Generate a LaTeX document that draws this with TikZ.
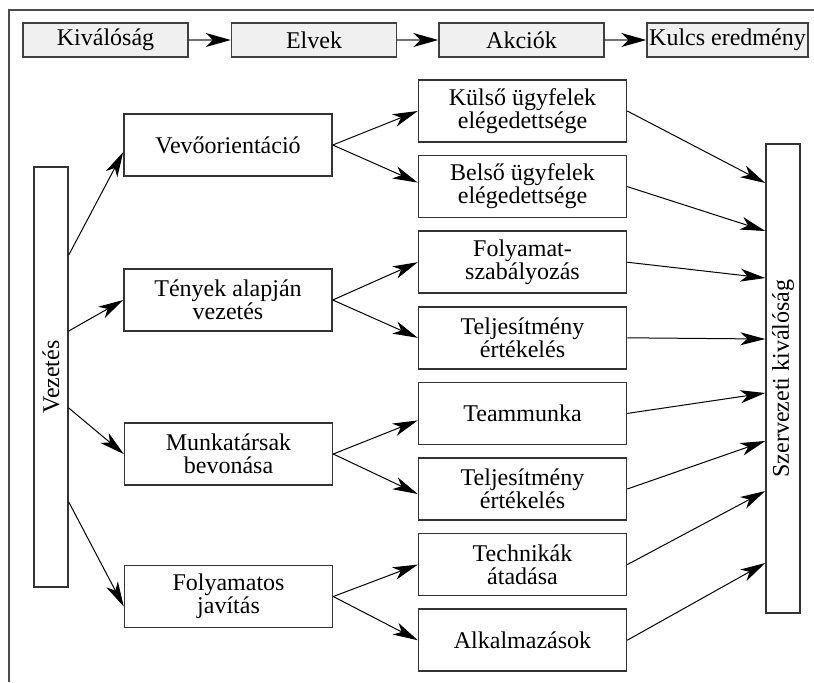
\documentclass[tikz,border=0pt]{standalone}
\usepackage{fontspec}
\setmainfont{Liberation Serif}
\usetikzlibrary{arrows.meta}

\begin{document}
\begin{tikzpicture}[x=0.5pt,y=-0.5pt,
  every node/.style={font=\fontsize{12}{11.5}\selectfont,inner sep=0pt,align=center},
  fejlec/.style={draw=black!75,fill=black!6,line width=0.7pt,minimum width=82.5pt,minimum height=17pt},
  doboz/.style={draw=black!80,line width=0.75pt,minimum width=104pt,minimum height=31pt},
  oszlop/.style={draw=black!80,line width=0.75pt,rotate=90,minimum height=17pt},
  nyil/.style={-{Stealth[length=12.5pt,width=6.5pt,inset=3.5pt]},line width=0.5pt},
  fejnyil/.style={-{Stealth[length=12.5pt,width=7pt,inset=3.5pt,color=black]},draw=black!55,line width=0.8pt}]
\useasboundingbox (0,0) rectangle (814,682);
% keret
\draw [black!70,line width=1pt] (9,682) -- (9,10) -- (814,10);

% felso sor
\path (105.5,40) node (kival) [fejlec] {Kiválóság};
\path (314,40) node (elvek) [fejlec] {Elvek};
\path (521.5,40) node (akcio) [fejlec] {Akciók};
\path (727.5,40) node (kulcs) [fejlec,minimum width=80.5pt] {Kulcs eredmény};

\draw [fejnyil] (kival) to (elvek);
\draw [fejnyil] (elvek) to (akcio);
\draw [fejnyil] (akcio) to (kulcs);

% oszlopok
\path (51,377) node (vez) [oszlop,minimum width=210pt] {Vezetés};
\path (783,378.5) node (szerv) [oszlop,minimum width=234.5pt] {Szervezeti kiválóság};

% elvek
\path (228,145) node (vevo) [doboz] {Vevőorientáció};
\path (228,300) node (tenyek) [doboz] {Tények alapján\\vezetés};
\path (228.5,454) node (munka) [doboz] {Munkatársak\\bevonása};
\path (228.5,596.5) node (foly) [doboz] {Folyamatos\\javítás};

% akciok
\path (522.5,111) node (kulso) [doboz] {Külső ügyfelek\\elégedettsége};
\path (522.5,186.6) node (belso) [doboz] {Belső ügyfelek\\elégedettsége};
\path (522.5,262.2) node (szab) [doboz] {Folyamat-\\szabályozás};
\path (522.5,337.8) node (telj) [doboz] {Teljesítmény\\értékelés};
\path (522.5,413.4) node (team) [doboz] {Teammunka};
\path (522.5,489) node (teljb) [doboz] {Teljesítmény\\értékelés};
\path (522.5,564.6) node (tech) [doboz] {Technikák\\átadása};
\path (522.5,640.2) node (alk) [doboz] {Alkalmazások};

\draw [nyil] ([yshift=61pt]vez.south) to ([yshift=-3.5pt]vevo.west);
\draw [nyil] ([yshift=23pt]vez.south) to (tenyek.west);
\draw [nyil] ([yshift=-15.5pt]vez.south) to (munka.west);
\draw [nyil] ([yshift=-62.5pt]vez.south) to ([yshift=-5pt]foly.west);

\draw [nyil] (vevo.east) to (kulso.west);
\draw [nyil] (vevo.east) to ([yshift=2pt]belso.west);
\draw [nyil] (tenyek.east) to (szab.west);
\draw [nyil] (tenyek.east) to (telj.west);
\draw [nyil] (munka.east) to ([yshift=-3.5pt]team.west);
\draw [nyil] (munka.east) to ([yshift=-2.5pt]teljb.west);
\draw [nyil] (foly.east) to (tech.west);
\draw [nyil] (foly.east) to (alk.west);

\draw [nyil] (kulso.east) to ([yshift=97.75pt]szerv.north);
\draw [nyil] (belso.east) to ([yshift=73.75pt]szerv.north);
\draw [nyil] (szab.east) to ([yshift=50.25pt]szerv.north);
\draw [nyil] (telj.east) to ([yshift=19.75pt]szerv.north);
\draw [nyil] (team.east) to ([yshift=-7.25pt]szerv.north);
\draw [nyil] (teljb.east) to ([yshift=-31.25pt]szerv.north);
\draw [nyil] (tech.east) to ([yshift=-56.25pt]szerv.north);
\draw [nyil] (alk.east) to ([yshift=-92.25pt]szerv.north);
\end{tikzpicture}
\end{document}
